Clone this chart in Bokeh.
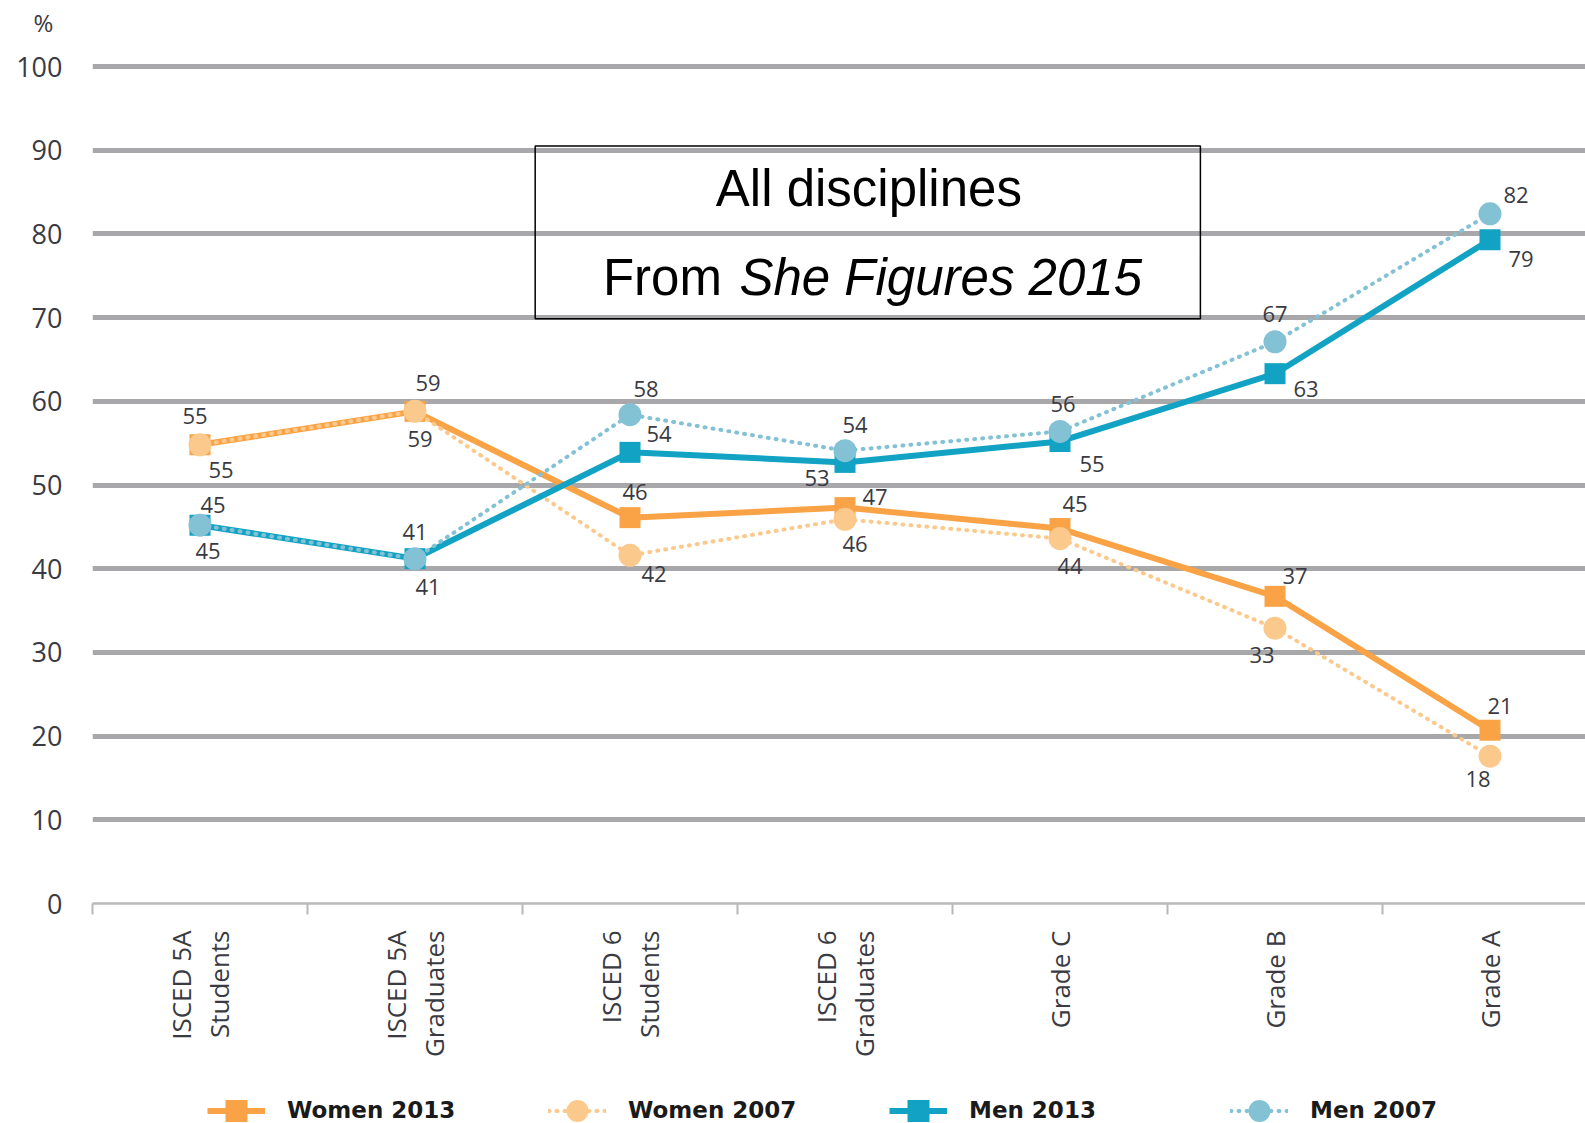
import math
from bokeh.plotting import figure
from bokeh.layouts import column
from bokeh.models import (ColumnDataSource, FixedTicker, Legend, LegendItem, Label,
                          BoxAnnotation, Range1d)
from bokeh.embed import file_html
from bokeh.resources import INLINE
from bokeh.core.properties import value

# ---------------- data ----------------
categories = ["ISCED 5A\nStudents", "ISCED 5A\nGraduates", "ISCED 6\nStudents",
              "ISCED 6\nGraduates", "Grade C", "Grade B", "Grade A"]
women_2013 = [54.8, 58.8, 46.1, 47.3, 44.8, 36.7, 20.7]
women_2007 = [54.8, 58.8, 41.6, 45.9, 43.6, 32.9, 17.6]
men_2013 = [45.2, 41.2, 53.9, 52.7, 55.2, 63.3, 79.3]
men_2007 = [45.2, 41.2, 58.4, 54.1, 56.4, 67.1, 82.4]
series_names = ["Women 2013", "Women 2007", "Men 2013", "Men 2007"]
y_ticks = [0, 10, 20, 30, 40, 50, 60, 70, 80, 90, 100]

# value-label offsets in screen pixels (dx, dy; dy positive = down)
w13_dx = [-5, 13, 5, 30, 15, 20, 10]
w13_dy = [-29, -28, -26, -11, -25, -20, -24]
w07_dx = [21, 5, 24, 10, 10, -13, -12]
w07_dy = [25, 28, 19, 25, 27, 27, 23]
m13_dx = [8, 13, 29, -28, 32, 31, 31]
m13_dy = [26, 28, -18, 16, 23, 15, 19]
m07_dx = [13, 0, 16, 10, 3, 0, 26]
m07_dy = [-20, -27, -26, -26, -27, -28, -19]

ORANGE = "#F9A346"
LORANGE = "#FCC98D"
TEAL = "#12A2C3"
LBLUE = "#83C1D5"
GRID = "#A8A8AB"
TXT = "#3a3a42"

N = len(categories)
xs = list(range(N))
CAT_PX = 215.0
W = 1585
LEFT, TOP, BOTTOM = 92, 40, 173
FRAME_W = W - LEFT
FRAME_H = 862
PX_PER_UNIT = 8.37
LEG_H = 48

p = figure(frame_width=FRAME_W, frame_height=FRAME_H, output_backend="svg",
           toolbar_location=None,
           x_range=Range1d(-0.5, -0.5 + FRAME_W / CAT_PX),
           y_range=Range1d(0, FRAME_H / PX_PER_UNIT),
           min_border_left=LEFT, min_border_right=0, min_border_top=TOP,
           min_border_bottom=BOTTOM)
p.outline_line_color = None
p.background_fill_color = "white"
p.border_fill_color = "white"

# "%" unit marker, drawn as a left-aligned title pulled over the y axis
p.title.text = "%"
p.title.align = "left"
p.title.offset = -59
p.title.text_font = "Open Sans"
p.title.text_font_style = "normal"
p.title.text_font_size = "24px"
p.title.text_color = TXT
p.title.standoff = 6

p.xgrid.visible = False
p.ygrid.ticker = FixedTicker(ticks=[t for t in y_ticks if t > 0])
p.ygrid.grid_line_color = GRID
p.ygrid.grid_line_width = 5

ya = p.yaxis[0]
ya.ticker = FixedTicker(ticks=y_ticks)
ya.axis_line_color = None
ya.major_tick_line_color = None
ya.minor_tick_line_color = None
ya.major_tick_out = 0
ya.major_label_standoff = 30
ya.major_label_text_font = "Open Sans"
ya.major_label_text_font_size = "27px"
ya.major_label_text_color = TXT

xa = p.xaxis[0]
xa.ticker = FixedTicker(ticks=xs, minor_ticks=[i - 0.5 for i in range(N + 1)])
xa.major_tick_line_color = None
xa.major_tick_out = 0
xa.major_tick_in = 0
xa.minor_tick_out = 11
xa.minor_tick_in = 0
xa.minor_tick_line_color = "#B8B8B8"
xa.minor_tick_line_width = 2
xa.axis_line_color = "#B8B8B8"
xa.axis_line_width = 2.5
xa.major_label_orientation = math.pi / 2
xa.major_label_standoff = 16
xa.major_label_overrides = {i: c for i, c in enumerate(categories)}
xa.major_label_text_font = "Open Sans"
xa.major_label_text_font_size = "26px"
xa.major_label_text_line_height = 1.07
xa.major_label_text_color = TXT

src = ColumnDataSource(dict(
    x=xs, w13=women_2013, w07=women_2007, m13=men_2013, m07=men_2007,
    w13_t=[f"{v:.0f}" for v in women_2013], w07_t=[f"{v:.0f}" for v in women_2007],
    m13_t=[f"{v:.0f}" for v in men_2013], m07_t=[f"{v:.0f}" for v in men_2007],
    w13_dx=w13_dx, w13_dy=w13_dy, w07_dx=w07_dx, w07_dy=w07_dy,
    m13_dx=m13_dx, m13_dy=m13_dy, m07_dx=m07_dx, m07_dy=m07_dy,
))

DOT = "1 7"
STYLES = [
    ("w13", ORANGE, 6, "solid", "square", 21),
    ("w07", LORANGE, 4, DOT, "circle", 23),
    ("m13", TEAL, 6, "solid", "square", 21),
    ("m07", LBLUE, 4, DOT, "circle", 23),
]


def draw_series(fig):
    out = []
    for key, col, lw, dash, marker, size in STYLES:
        rl = fig.line("x", key, source=src, line_color=col, line_width=lw,
                      line_dash=dash, line_cap="round" if dash != "solid" else "butt")
        rm = fig.scatter("x", key, source=src, marker=marker, size=size,
                         fill_color=col, line_color=None)
        out.append([rl, rm])
    return out


draw_series(p)

for key in ["w13", "w07", "m13", "m07"]:
    p.text("x", key, text=key + "_t", x_offset=key + "_dx", y_offset=key + "_dy",
           source=src, text_font=value("Open Sans"), text_font_size=value("22px"),
           text_color=TXT, text_align="center", text_baseline="middle")

# title box
p.add_layout(BoxAnnotation(left=1.559, right=4.653, bottom=69.85, top=90.5,
                           fill_alpha=0, line_color="black", line_alpha=1,
                           line_width=1.5))
p.add_layout(Label(x=3.111, y=85.4, text="All disciplines", text_font="Liberation Sans",
                   text_font_size="51px", text_color="black",
                   text_align="center", text_baseline="middle"))
p.add_layout(Label(x=1.874, y=74.8, text="From", text_font="Liberation Sans",
                   text_font_size="51px", text_color="black",
                   text_align="left", text_baseline="middle"))
p.add_layout(Label(x=2.509, y=74.8, text="She Figures 2015", text_font="Liberation Sans",
                   text_font_size="51px", text_font_style="italic", text_color="black",
                   text_align="left", text_baseline="middle"))

# ---------------- legend strip (separate figure below) ----------------
leg = figure(width=W, height=LEG_H, output_backend="svg", toolbar_location=None,
             x_range=Range1d(0, 1), y_range=Range1d(0, 1),
             x_axis_type=None, y_axis_type=None,
             min_border_left=LEFT, min_border_right=0,
             min_border_top=0, min_border_bottom=0)
leg.outline_line_color = None
leg.grid.visible = False
# the series themselves fall outside this strip's ranges; only their legend glyphs show
leg_renderers = draw_series(leg)

legend = Legend(items=[LegendItem(label=name, renderers=rs)
                       for name, rs in zip(series_names, leg_renderers)],
                orientation="horizontal", location=(207 - LEFT, -13.5),
                glyph_width=58, glyph_height=55,
                label_standoff=22, label_width=169, spacing=92, padding=0, margin=0,
                border_line_color=None, background_fill_alpha=0,
                label_text_font="DejaVu Sans", label_text_font_style="bold",
                label_text_font_size="23px", label_text_color="#1a1a1a")
leg.add_layout(legend)

layout = column(p, leg, spacing=0)
open("out.html", "w").write(file_html(layout, INLINE))
